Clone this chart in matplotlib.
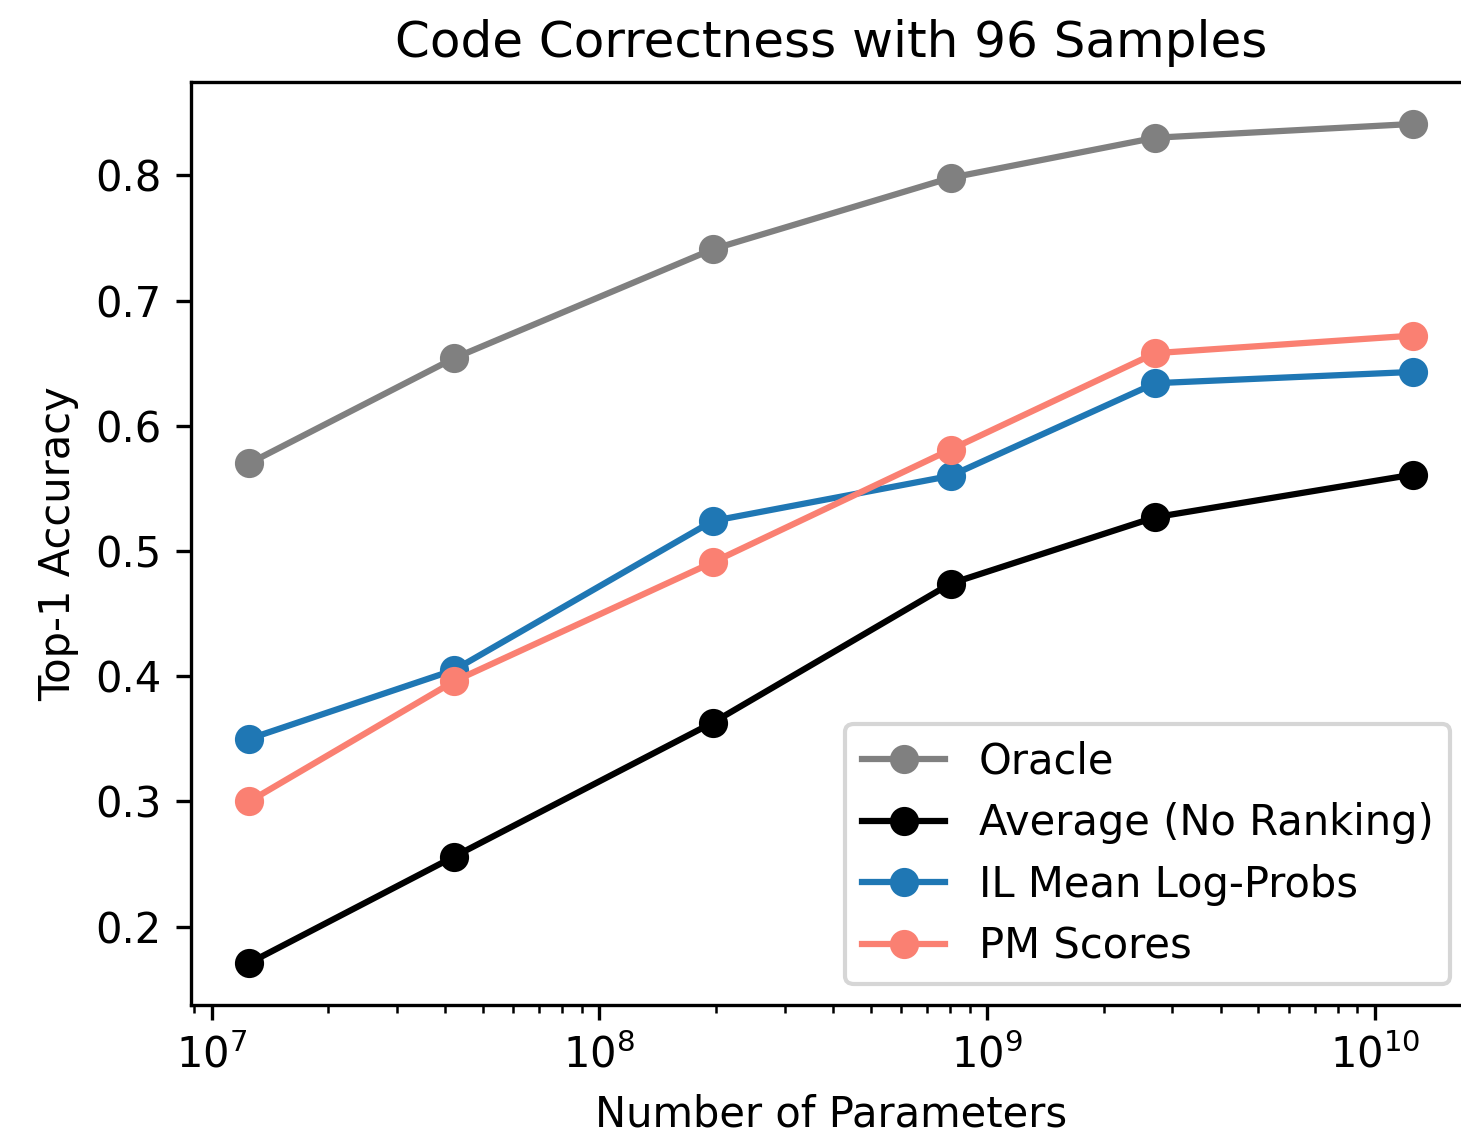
import matplotlib
matplotlib.use("Agg")
import matplotlib.pyplot as plt
import numpy as np

params = [1.25e7, 4.22e7, 1.96e8, 8.04e8, 2.71e9, 1.25e10]
oracle = [0.570, 0.654, 0.741, 0.798, 0.830, 0.841]
average = [0.171, 0.256, 0.363, 0.474, 0.527, 0.561]
il_logprobs = [0.350, 0.405, 0.524, 0.560, 0.634, 0.643]
pm_scores = [0.300, 0.396, 0.491, 0.581, 0.658, 0.672]

W, H = 1461, 1135
fig = plt.figure(figsize=(W / 300, H / 300), dpi=300)
# axes placed by pixel; right spine falls just outside the crop
ax = fig.add_axes([191 / W, 130 / H, (1471 - 191) / W, (1005 - 82) / H])

ax.plot(params, oracle, "o-", color="gray", label="Oracle")
ax.plot(params, average, "o-", color="black", label="Average (No Ranking)")
ax.plot(params, il_logprobs, "o-", color="tab:blue", label="IL Mean Log-Probs")
ax.plot(params, pm_scores, "o-", color="salmon", label="PM Scores")

ax.set_xscale("log")
ax.set_xlabel("Number of Parameters")
ax.set_ylabel("Top-1 Accuracy")
ax.set_title("Code Correctness with 96 Samples")
ax.legend(loc="lower right", labelspacing=0.47)

fig.savefig("out.png", dpi=300)
